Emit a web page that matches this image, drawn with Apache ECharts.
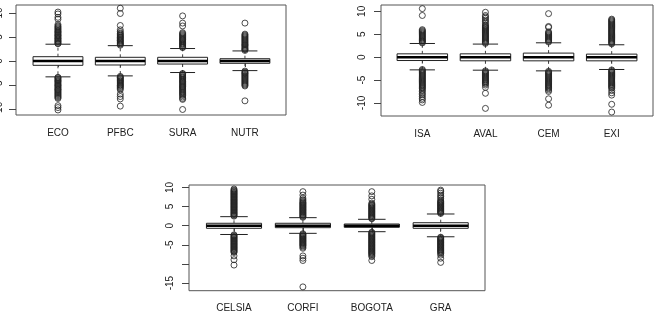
<!DOCTYPE html>
<html>
<head>
<meta charset="utf-8">
<script src="https://cdn.jsdelivr.net/npm/echarts@6/dist/echarts.min.js"></script>
<style>
html,body{margin:0;padding:0;background:#fff;}
#chart{width:655px;height:316px;}
</style>
</head>
<body>
<div id="chart"></div>
<script>
// ---------- DATA ----------
const p1Cats = ['ECO', 'PFBC', 'SURA', 'NUTR'];
const p2Cats = ['ISA', 'AVAL', 'CEM', 'EXI'];
const p3Cats = ['CELSIA', 'CORFI', 'BOGOTA', 'GRA'];

// [lower whisker, Q1, median, Q3, upper whisker]
const p1Box = [
  [-3.3, -0.9, 0, 0.9, 3.5],
  [-3.1, -0.83, 0, 0.77, 3.2],
  [-2.4, -0.63, 0, 0.77, 2.6],
  [-2.0, -0.48, 0, 0.48, 2.1]
];
const p2Box = [
  [-2.78, -0.74, 0, 0.72, 2.98],
  [-2.85, -0.8, 0, 0.72, 2.85],
  [-3.0, -0.81, 0, 0.88, 3.13],
  [-2.7, -0.81, 0, 0.66, 2.7]
];
const p3Box = [
  [-2.3, -0.68, 0, 0.63, 2.36],
  [-2.0, -0.52, 0, 0.63, 2.1],
  [-1.57, -0.43, 0, 0.44, 1.67],
  [-2.9, -0.68, 0, 0.78, 3.06]
];

// outliers per category
const ecoOut = [3.6,3.7,3.9,4.1,4.2,4.4,4.6,4.7,4.9,5.1,5.3,5.4,5.6,5.8,6.0,6.1,6.3,6.5,6.7,6.9,7.1,7.3,7.6,8.7,9.1,9.8,10.2,
  -3.4,-3.5,-3.7,-3.9,-4.1,-4.2,-4.4,-4.6,-4.8,-5.0,-5.1,-5.3,-5.5,-5.7,-5.9,-6.0,-6.2,-6.4,-6.6,-6.8,-7.0,-7.2,-7.4,-7.6,-7.8,-9.3,-9.7,-10.2];
const pfbcOut = [3.3,3.5,3.6,3.8,4.0,4.2,4.3,4.5,4.7,4.9,5.0,5.2,5.4,5.6,5.8,6.1,6.5,7.4,9.9,11.0,
  -3.2,-3.4,-3.5,-3.7,-3.9,-4.1,-4.2,-4.4,-4.6,-4.8,-5.0,-5.1,-5.3,-5.5,-5.7,-6.0,-6.9,-7.4,-7.9,-9.4];
const suraOut = [2.8,2.9,3.1,3.3,3.5,3.6,3.8,4.0,4.2,4.4,4.5,4.7,4.9,5.1,5.3,5.5,5.7,5.9,7.3,7.9,9.4,
  -2.6,-2.7,-2.9,-3.1,-3.3,-3.4,-3.6,-3.8,-4.0,-4.2,-4.3,-4.5,-4.7,-4.9,-5.1,-5.3,-5.4,-5.6,-5.8,-6.0,-6.2,-6.4,-6.6,-6.8,-7.0,-7.2,-7.5,-7.8,-8.0,-10.1];
const nutrOut = [2.2,2.4,2.5,2.7,2.9,3.1,3.3,3.4,3.6,3.8,4.0,4.2,4.4,4.6,4.8,5.0,5.2,5.4,5.6,7.9,
  -2.1,-2.3,-2.5,-2.6,-2.8,-3.0,-3.2,-3.4,-3.6,-3.8,-4.0,-4.2,-4.4,-4.6,-4.8,-5.0,-5.2,-8.3];
const p1Out = [ecoOut, pfbcOut, suraOut, nutrOut];

const isaOut = [3.1,3.3,3.5,3.6,3.8,4.0,4.2,4.4,4.6,4.8,5.0,5.2,5.4,5.6,5.8,6.0,9.1,10.6,
  -2.7,-2.9,-3.1,-3.3,-3.5,-3.7,-3.9,-4.1,-4.3,-4.5,-4.7,-4.9,-5.1,-5.3,-5.5,-5.7,-5.9,-6.1,-6.3,-6.5,-6.7,-6.9,-7.2,-7.5,-7.9,-8.2,-8.6,-9.0,-9.35,-9.9];
const avalOut = [3.0,3.2,3.4,3.6,3.8,4.0,4.2,4.4,4.6,4.8,5.0,5.2,5.4,5.6,5.8,6.0,6.2,6.4,6.6,6.8,7.0,7.4,7.8,8.1,8.5,8.8,9.1,9.8,
  -3.0,-3.2,-3.4,-3.6,-3.8,-4.0,-4.2,-4.4,-4.6,-4.8,-5.0,-5.2,-5.4,-5.6,-5.8,-6.1,-6.6,-7.9,-11.2];
const cemOut = [3.3,3.5,3.7,3.9,4.1,4.3,4.5,4.7,4.9,5.1,5.3,5.5,6.5,6.7,9.5,
  -3.1,-3.3,-3.5,-3.7,-3.9,-4.1,-4.3,-4.5,-4.7,-4.9,-5.1,-5.3,-5.5,-5.7,-5.9,-6.1,-6.3,-6.5,-6.7,-6.9,-7.2,-7.5,-9.1,-10.5];
const exiOut = [2.9,3.1,3.3,3.5,3.7,3.9,4.1,4.3,4.5,4.7,4.9,5.1,5.3,5.5,5.7,5.9,6.1,6.3,6.5,6.7,6.9,7.1,7.3,7.5,7.7,7.9,8.1,8.3,
  -2.8,-3.0,-3.2,-3.4,-3.6,-3.8,-4.0,-4.2,-4.4,-4.6,-4.8,-5.0,-5.2,-5.4,-5.6,-5.8,-6.0,-6.2,-6.4,-6.6,-6.8,-7.3,-7.8,-8.3,-10.3,-12.0];
const p2Out = [isaOut, avalOut, cemOut, exiOut];

const celsiaOut = [2.5,2.7,2.9,3.1,3.3,3.5,3.7,3.9,4.1,4.3,4.5,4.7,4.9,5.1,5.3,5.5,5.7,5.9,6.1,6.3,6.5,6.7,6.9,7.1,7.3,7.5,7.7,7.9,8.1,8.3,8.5,8.7,8.9,9.1,9.3,9.6,
  -2.4,-2.6,-2.8,-3.0,-3.2,-3.4,-3.6,-3.8,-4.0,-4.2,-4.4,-4.6,-4.8,-5.0,-5.2,-5.4,-5.6,-5.8,-6.0,-6.2,-6.4,-6.6,-6.8,-7.0,-7.9,-8.9,-10.3];
const corfiOut = [2.2,2.4,2.6,2.8,3.0,3.2,3.4,3.6,3.8,4.0,4.2,4.4,4.6,4.8,5.0,5.2,5.4,5.6,5.8,6.0,6.2,6.5,6.8,7.2,8.0,8.9,
  -2.1,-2.3,-2.5,-2.7,-2.9,-3.1,-3.3,-3.5,-3.7,-3.9,-4.1,-4.3,-4.5,-4.7,-4.9,-5.1,-5.3,-5.6,-5.9,-7.9,-8.5,-9.1,-16.0];
const bogotaOut = [1.8,2.0,2.2,2.4,2.6,2.8,3.0,3.2,3.4,3.6,3.8,4.0,4.2,4.4,4.6,4.8,5.0,5.2,5.4,5.6,5.9,6.9,7.8,8.9,
  -1.7,-1.9,-2.1,-2.3,-2.5,-2.7,-2.9,-3.1,-3.3,-3.5,-3.7,-3.9,-4.1,-4.3,-4.5,-4.7,-4.9,-5.1,-5.3,-5.5,-5.7,-5.9,-6.1,-6.3,-6.5,-6.7,-6.9,-7.1,-7.3,-7.5,-7.8,-8.1,-9.1];
const graOut = [3.2,3.4,3.6,3.8,4.0,4.2,4.4,4.6,4.8,5.0,5.2,5.4,5.6,5.8,6.0,6.2,6.4,6.7,7.2,7.6,8.0,8.5,9.0,9.3,
  -3.0,-3.2,-3.4,-3.6,-3.8,-4.0,-4.2,-4.4,-4.6,-4.8,-5.0,-5.2,-5.4,-5.6,-5.8,-6.0,-6.2,-6.4,-6.6,-6.8,-7.0,-7.3,-7.7,-8.5,-9.6];
const p3Out = [celsiaOut, corfiOut, bogotaOut, graOut];

const yTicksA = [-10, -5, 0, 5, 10];
const yTicks3 = [-15, -10, -5, 0, 5, 10];
const yLabels3 = [-15, -5, 0, 5, 10];

// ---------- LAYOUT ----------
const panels = [
  {cats: p1Cats, box: p1Box, out: p1Out, frame: {left: 16, top: 5, width: 270, height: 110},
   data: {left: 26.8, width: 249.3}, min: -11.25, max: 11.67, ticks: yTicksA, labels: yTicksA, labMargin: 12},
  {cats: p2Cats, box: p2Box, out: p2Out, frame: {left: 381, top: 5, width: 272, height: 111},
   data: {left: 390.75, width: 252.5}, min: -12.86, max: 11.39, ticks: yTicksA, labels: yTicksA, labMargin: 14},
  {cats: p3Cats, box: p3Box, out: p3Out, frame: {left: 189, top: 185, width: 296, height: 105.7},
   data: {left: 199.55, width: 275.6}, min: -17.0, max: 10.64, ticks: yTicks3, labels: yLabels3, labMargin: 14}
];

const FONT = 'Liberation Sans, Arial, Helvetica, sans-serif';
const grid = [], xAxis = [], yAxis = [], series = [];

panels.forEach((p, i) => {
  grid.push(Object.assign({show: true, borderColor: '#555', borderWidth: 1, backgroundColor: 'transparent',
    containLabel: false, outerBoundsMode: 'none'}, p.frame));
});
panels.forEach((p, i) => {
  grid.push({left: p.data.left, width: p.data.width, top: p.frame.top, height: p.frame.height,
    containLabel: false, outerBoundsMode: 'none', show: false});
});

panels.forEach((p, i) => {
  xAxis.push({gridIndex: i, type: 'value', min: 0, max: 1, show: false});
  yAxis.push({gridIndex: i, type: 'value', min: p.min, max: p.max,
    splitLine: {show: false}, axisLine: {show: false},
    axisTick: {show: true, length: 7, customValues: p.ticks, lineStyle: {color: '#444'}},
    axisLabel: {show: true, rotate: 90, margin: p.labMargin, customValues: p.labels,
      fontSize: 10, color: '#222', fontFamily: FONT}});
});
panels.forEach((p, i) => {
  xAxis.push({gridIndex: 3 + i, type: 'category', data: p.cats, boundaryGap: true,
    axisLine: {show: false}, splitLine: {show: false},
    axisTick: {show: true, alignWithLabel: true, length: 6, lineStyle: {color: '#444'}},
    axisLabel: {fontSize: 10, color: '#222', margin: 13, fontFamily: FONT}});
  yAxis.push({gridIndex: 3 + i, type: 'value', min: p.min, max: p.max, show: false});
});

function renderBox(params, api) {
  const c = api.value(0);
  const vmin = api.value(1), q1 = api.value(2), med = api.value(3), q3 = api.value(4), vmax = api.value(5);
  const band = api.size([1, 0])[0];
  const x = api.coord([c, med])[0];
  const y = v => api.coord([c, v])[1];
  const half = band * 0.4, cap = band * 0.2;
  const solid = {stroke: '#222', lineWidth: 1, fill: null};
  const dash = {stroke: '#444', lineWidth: 1, lineDash: [3, 3], fill: null};
  return {type: 'group', children: [
    {type: 'line', shape: {x1: x, y1: y(q3), x2: x, y2: y(vmax)}, style: dash},
    {type: 'line', shape: {x1: x, y1: y(q1), x2: x, y2: y(vmin)}, style: dash},
    {type: 'line', shape: {x1: x - cap, y1: y(vmax), x2: x + cap, y2: y(vmax)}, style: solid},
    {type: 'line', shape: {x1: x - cap, y1: y(vmin), x2: x + cap, y2: y(vmin)}, style: solid},
    {type: 'rect', shape: {x: x - half, y: y(q3), width: 2 * half, height: y(q1) - y(q3)},
      style: {fill: '#fff', stroke: '#222', lineWidth: 1}},
    {type: 'line', shape: {x1: x - half, y1: y(med), x2: x + half, y2: y(med)},
      style: {stroke: '#000', lineWidth: 2.5}}
  ]};
}

panels.forEach((p, i) => {
  series.push({
    type: 'custom', xAxisIndex: 3 + i, yAxisIndex: 3 + i,
    renderItem: renderBox, silent: true,
    encode: {x: 0, y: [1, 2, 3, 4, 5]},
    data: p.box.map((b, k) => [k].concat(b))
  });
  const pts = [];
  p.out.forEach((arr, k) => arr.forEach(v => pts.push([k, v])));
  series.push({
    type: 'scatter', xAxisIndex: 3 + i, yAxisIndex: 3 + i, symbol: 'circle', symbolSize: 6,
    silent: true, animation: false,
    itemStyle: {color: 'rgba(0,0,0,0)', borderColor: '#222', borderWidth: 1},
    data: pts
  });
});

const chart = echarts.init(document.getElementById('chart'), null, {renderer: 'canvas'});
chart.setOption({backgroundColor: '#fff', animation: false, grid, xAxis, yAxis, series});
</script>
</body>
</html>
